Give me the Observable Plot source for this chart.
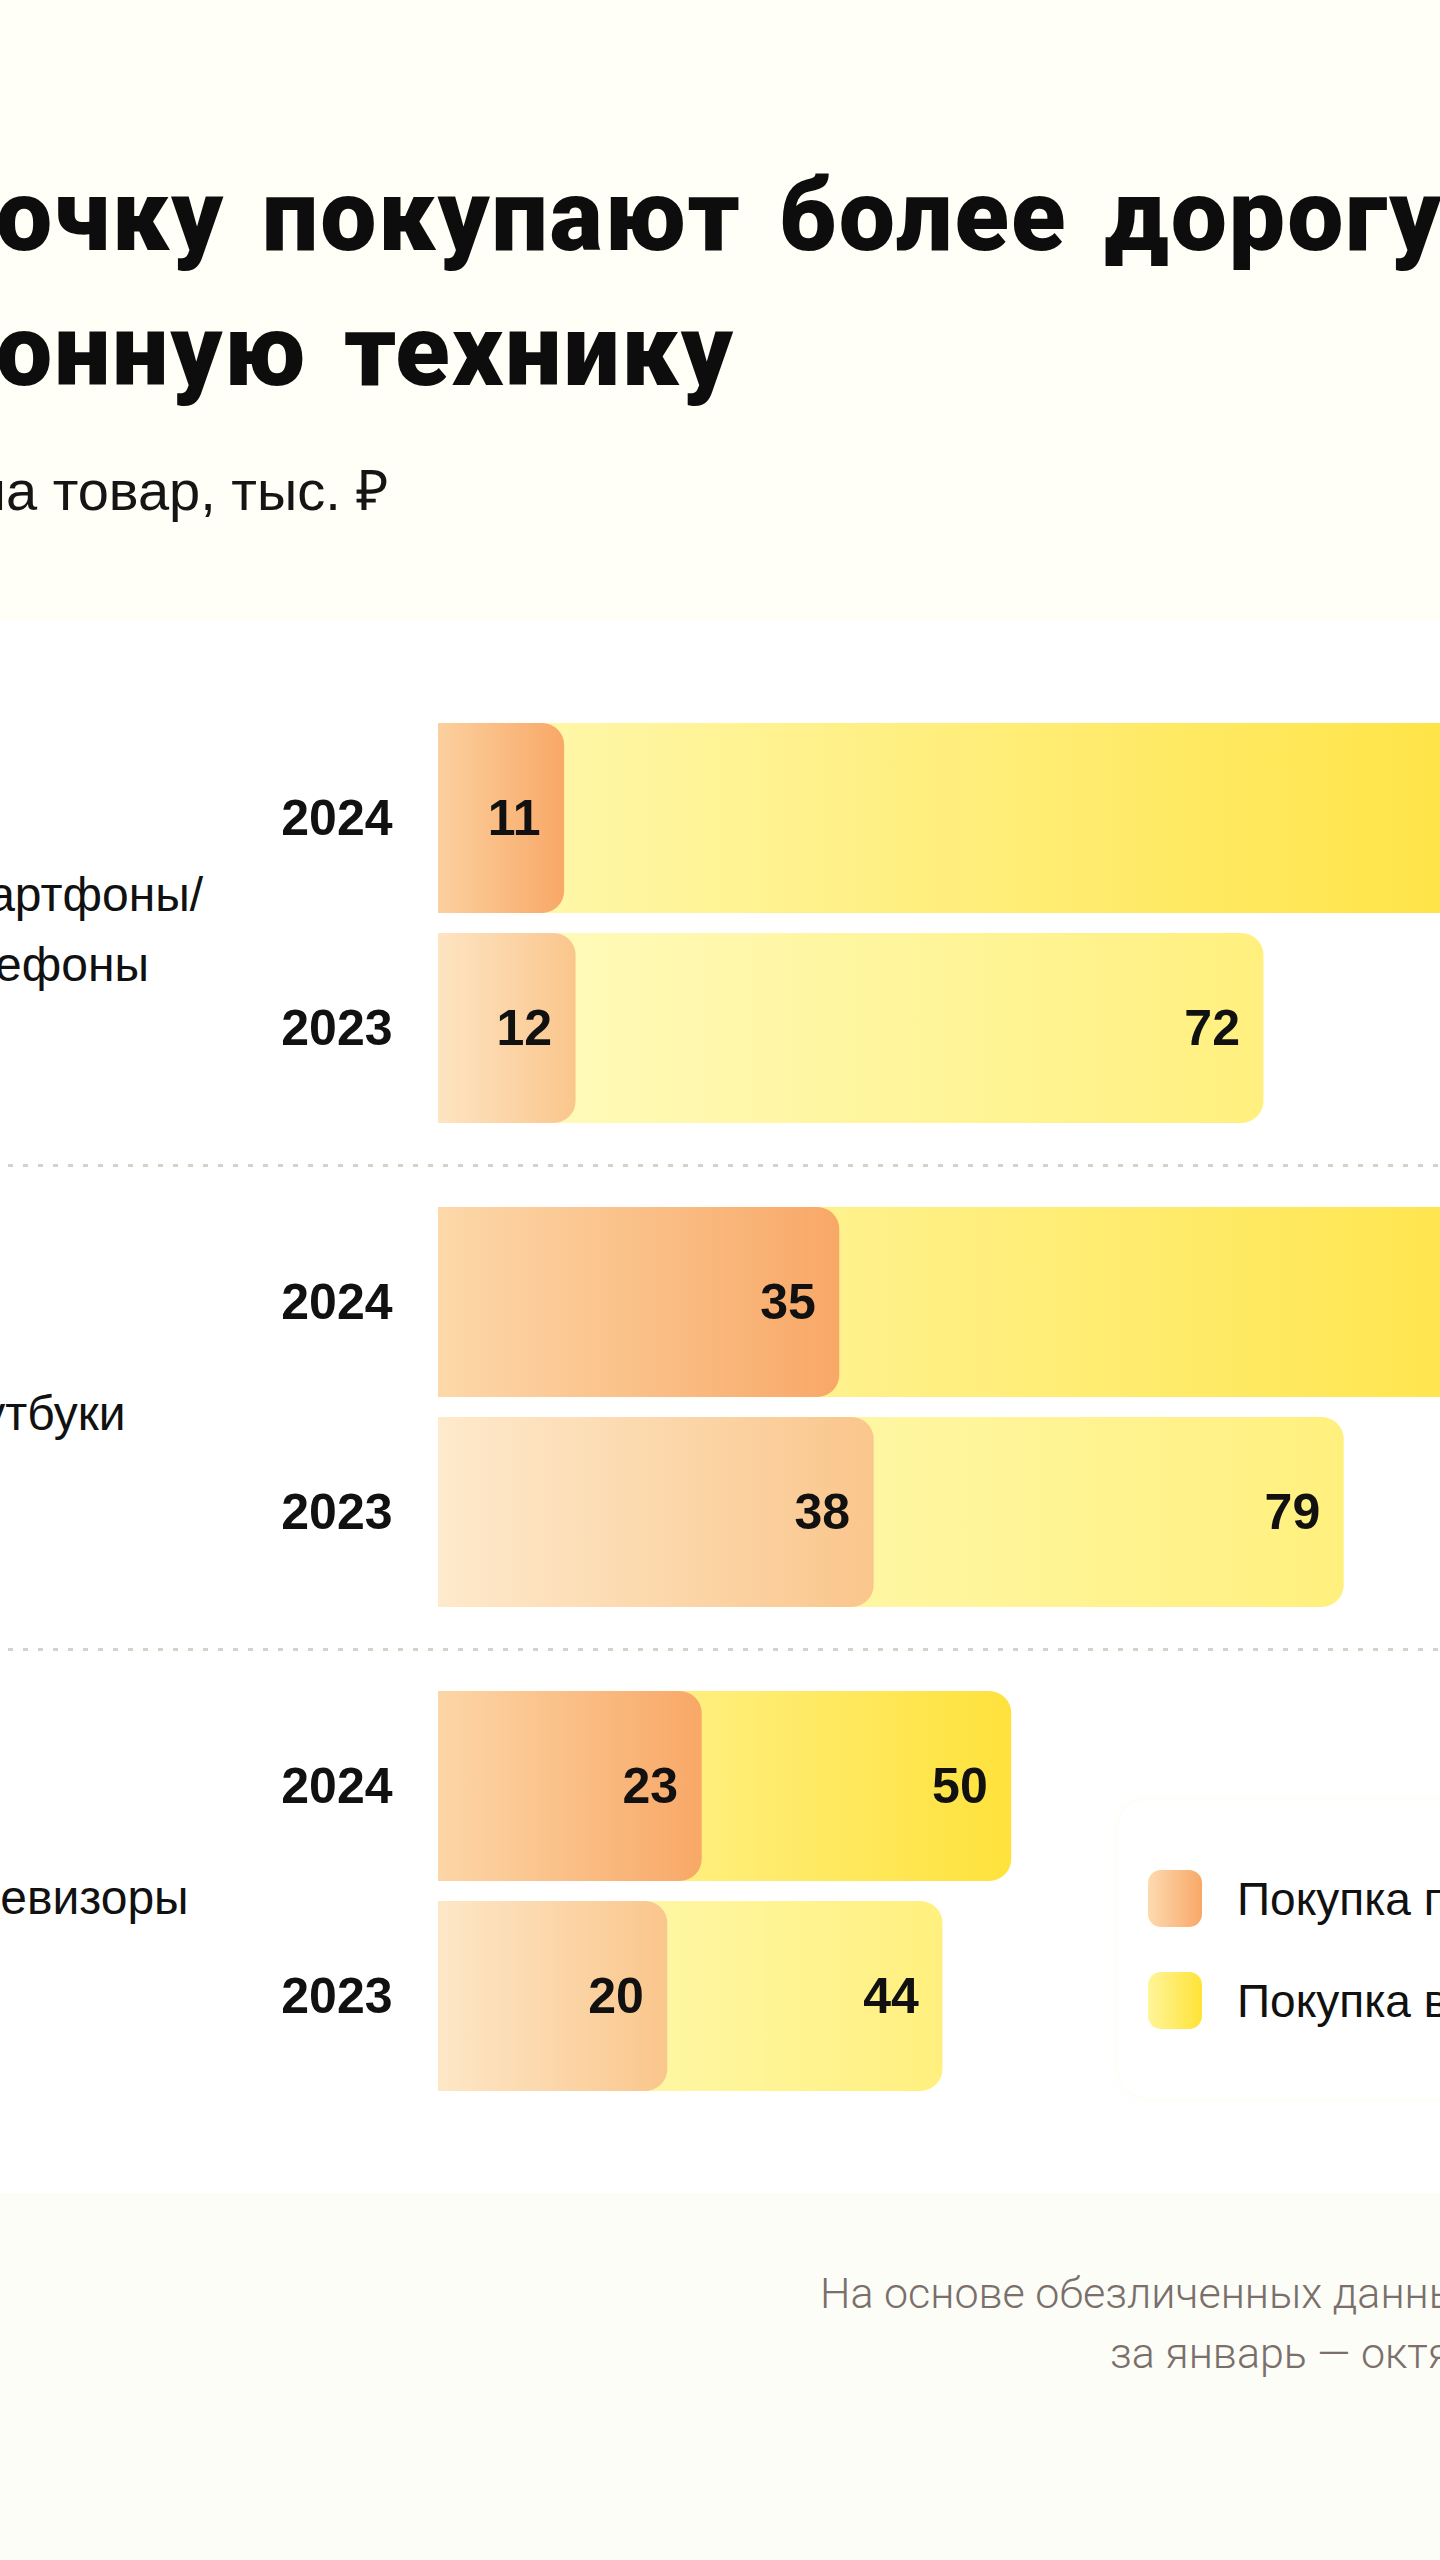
<!DOCTYPE html>
<html lang="ru">
<head>
<meta charset="utf-8">
<script src="https://cdn.jsdelivr.net/npm/d3@7"></script>
<script src="https://cdn.jsdelivr.net/npm/@observablehq/plot@0.6"></script>
<style>
  html, body { margin: 0; padding: 0; }
  body { width: 1440px; height: 2560px; overflow: hidden; background: #FFFEF7; position: relative; font-family: "Liberation Sans", Arial, sans-serif; color: #111; }
  .abs { position: absolute; white-space: nowrap; line-height: 1; }
  .title { font-family: Roboto, "Liberation Sans", sans-serif; font-weight: 900; font-size: 100px; letter-spacing: 2px; word-spacing: 10px; color: #0d0d0d; }
  .pre { position: absolute; right: 100%; top: 0; }
  .subtitle { font-size: 56px; font-weight: 400; color: #151515; }
  .legend-text { font-size: 46px; color: #111; }
  .foot { font-family: Roboto, "Liberation Sans", sans-serif; font-weight: 300; font-size: 43px; color: #7a6f6b; }
  #chartbg { position: absolute; left: 0; top: 622px; width: 1440px; height: 1571px; background: #ffffff; }
  #bottombg { position: absolute; left: 0; top: 2193px; width: 1440px; height: 367px; background: #FCFDF6; }
  #chart { position: absolute; left: 0; top: 622px; }
  #legendcard { position: absolute; left: 1118px; top: 1800px; width: 420px; height: 297px; background: #fff; border-radius: 28px; box-shadow: 0 0 8px rgba(248, 242, 214, 0.35); }
  .swatch { position: absolute; width: 54px; height: 57px; border-radius: 13px; }
</style>
</head>
<body>
<svg width="0" height="0" style="position:absolute">
  <defs>
    <linearGradient id="orange2024" x1="0" y1="0" x2="1" y2="0">
      <stop offset="0" stop-color="#FDDDB0"/><stop offset="1" stop-color="#F8A867"/>
    </linearGradient>
    <linearGradient id="orange2023" x1="0" y1="0" x2="1" y2="0">
      <stop offset="0" stop-color="#FEEDD2"/><stop offset="1" stop-color="#FAC68C"/>
    </linearGradient>
    <linearGradient id="yellow2024" x1="0" y1="0" x2="1" y2="0">
      <stop offset="0" stop-color="#FFFAB8"/><stop offset="1" stop-color="#FFE23C"/>
    </linearGradient>
    <linearGradient id="yellow2023" x1="0" y1="0" x2="1" y2="0">
      <stop offset="0" stop-color="#FFFCC6"/><stop offset="1" stop-color="#FFF07E"/>
    </linearGradient>
  </defs>
</svg>

<div id="chartbg"></div>
<div id="bottombg"></div>

<div class="abs title" style="left:-4px; top:166px;"><span class="pre">В расср</span>очку покупают более дорогую</div>
<div class="abs title" style="left:-4px; top:301px;"><span class="pre">электр</span>онную технику</div>
<div class="abs subtitle" style="left:-25px; top:463px;"><span class="pre">Средний чек </span>на товар, тыс. ₽</div>

<div id="chart"></div>

<div id="legendcard"></div>
<div class="swatch" style="left:1148px; top:1870px; background: linear-gradient(90deg, #FDDAB0, #F8A867);"></div>
<div class="swatch" style="left:1148px; top:1972px; background: linear-gradient(90deg, #FFF59A, #FFE336);"></div>
<div class="abs legend-text" id="leg1" style="left:1237px; top:1876px;"></div>
<div class="abs legend-text" id="leg2" style="left:1237px; top:1978px;"></div>

<div class="abs foot" style="left:820px; top:2272px;">На основе обезличенных данных</div>
<div class="abs foot" style="left:1110px; top:2332px;">за январь — октябрь 2024 года</div>

<script>
// ---- data ----
const categories = ["Смартфоны/\nтелефоны", "Ноутбуки", "Телевизоры"];
const years = ["2024", "2023"];
const fullPay2024 = [11, 35, 23];
const fullPay2023 = [12, 38, 20];
const installment2024 = [97, 104, 50];
const installment2023 = [72, 79, 44];
const seriesNames = ["Покупка полностью", "Покупка в рассрочку"];

document.getElementById("leg1").textContent = seriesNames[0];
document.getElementById("leg2").textContent = seriesNames[1];

const rows = categories.flatMap((cat, i) => [
  {cat, year: years[0], full: fullPay2024[i], inst: installment2024[i]},
  {cat, year: years[1], full: fullPay2023[i], inst: installment2023[i]}
]);

const is24 = d => d.year === years[0];
const is23 = d => d.year === years[1];

const barCommon = {y: "year", fy: "cat", rx: 22, insetLeft: -40, clip: "frame"};
const numCommon = {y: "year", fy: "cat", textAnchor: "end", dx: -24, fontSize: 50, fontWeight: 700, fill: "#111"};

const chart = Plot.plot({
  width: 1440,
  height: 1571,
  marginLeft: 438,
  marginRight: 0,
  marginTop: 81,
  marginBottom: 82,
  facet: {marginTop: 0, marginRight: 0, marginBottom: 0, marginLeft: 0},
  x: {domain: [0, 87.4], axis: null},
  y: {domain: years, axis: null, paddingInner: 20 / 210, paddingOuter: 20 / 210},
  fy: {domain: categories, axis: null, paddingInner: 44 / 484, paddingOuter: 0},
  style: {background: "transparent", overflow: "visible", fontFamily: "'Liberation Sans', Arial, sans-serif", color: "#111"},
  marks: [
    Plot.ruleY(rows.filter(d => is23(d) && d.cat !== categories[categories.length - 1]), {
      y: "year", fy: "cat", dy: 137, stroke: "#d6d2c8", strokeWidth: 3, strokeDasharray: "5 10",
      insetLeft: -520, insetRight: -20
    }),
    Plot.barX(rows.filter(is24), {...barCommon, x: "inst", fill: "url(#yellow2024)"}),
    Plot.barX(rows.filter(is23), {...barCommon, x: "inst", fill: "url(#yellow2023)"}),
    Plot.barX(rows.filter(is24), {...barCommon, x: "full", fill: "url(#orange2024)"}),
    Plot.barX(rows.filter(is23), {...barCommon, x: "full", fill: "url(#orange2023)"}),
    Plot.text(rows, {...numCommon, x: "inst", text: "inst"}),
    Plot.text(rows, {...numCommon, x: "full", text: "full"}),
    Plot.text(rows, {y: "year", fy: "cat", text: "year", frameAnchor: "left", textAnchor: "end", dx: -46, fontSize: 50, fontWeight: 700, fill: "#111"}),
    Plot.text(categories, {fy: d => d, text: d => d, frameAnchor: "left", textAnchor: "start", dx: -518, fontSize: 48, lineHeight: 1.46, fill: "#111"})
  ]
});
document.getElementById("chart").appendChild(chart);
</script>
</body>
</html>
